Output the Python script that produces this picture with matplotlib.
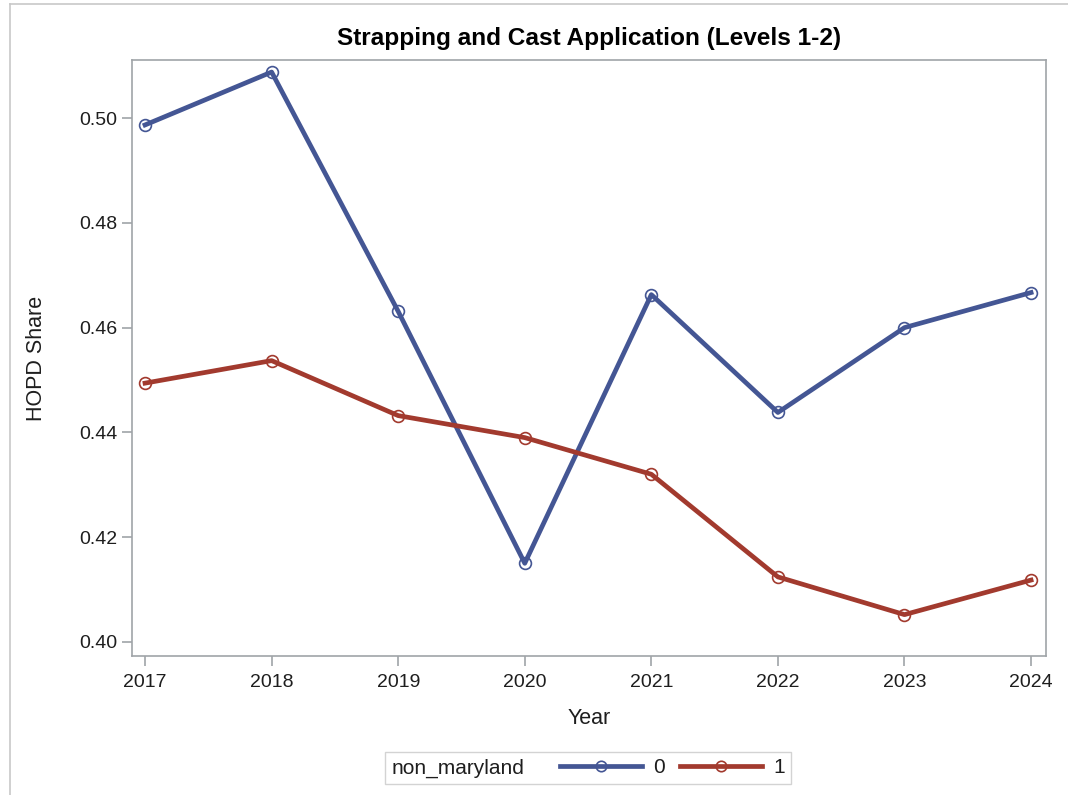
import matplotlib
matplotlib.use("Agg")
import matplotlib.pyplot as plt
from matplotlib.lines import Line2D

# data
years = [2017, 2018, 2019, 2020, 2021, 2022, 2023, 2024]
share_0 = [0.4987, 0.5088, 0.4631, 0.4150, 0.4663, 0.4438, 0.4600, 0.4667]
share_1 = [0.4494, 0.4537, 0.4432, 0.4390, 0.4320, 0.4124, 0.4052, 0.4118]
group_labels = ["0", "1"]
yticks = [0.40, 0.42, 0.44, 0.46, 0.48, 0.50]

blue = "#445694"
red = "#A23A2E"
grey = "#A0A4A8"
txt = "#1E1E1E"

plt.rcParams["font.family"] = ["Liberation Sans", "DejaVu Sans"]

W, H = 1068, 795
fig = plt.figure(figsize=(W / 100, H / 100), dpi=100)
ax = fig.add_axes([132 / W, 1 - 656 / H, 914 / W, 596 / H])

for vals, col in [(share_0, blue), (share_1, red)]:
    ax.plot(years, vals, color=col, linewidth=3.4, marker="o", markersize=8.5,
            markerfacecolor="none", markeredgecolor=col, markeredgewidth=1.2)

ax.set_xlim(2016.897, 2024.118)
ax.set_ylim(0.3973, 0.5111)
ax.set_xticks(years)
ax.set_yticks(yticks)
ax.set_yticklabels([f"{v:.2f}" for v in yticks])
ax.tick_params(colors=grey, labelcolor=txt, labelsize=14, length=7, width=1.2)
ax.tick_params(axis="y", pad=3.5)
ax.tick_params(axis="x", pad=6)

for s in ax.spines.values():
    s.set_color(grey)
    s.set_linewidth(1.2)

ax.set_title("Strapping and Cast Application (Levels 1-2)", fontsize=17.6,
             fontweight="bold", y=1 + 22 / 596, pad=0, va="center", color="black")
ax.set_xlabel("Year", fontsize=15.5, color=txt, va="center")
ax.set_ylabel("HOPD Share", fontsize=15.5, color=txt, va="center")
ax.xaxis.set_label_coords(0.5, -(718 - 656) / 596)
ax.yaxis.set_label_coords(-(132 - 37) / 914, 0.5)

handles = [Line2D([], [], color=c, linewidth=3.4, marker="o", markersize=7.5,
                  markerfacecolor="none", markeredgewidth=1.2)
           for c in (blue, red)]
title_handle = Line2D([], [], linestyle="none")
leg = fig.legend([title_handle] + handles, ["non_maryland"] + group_labels,
                 loc="center", bbox_to_anchor=(588 / W, 1 - 768 / H),
                 ncol=3, fontsize=15, frameon=True, fancybox=False,
                 handlelength=3.94, handletextpad=0.53, columnspacing=0.72,
                 borderpad=0.3, borderaxespad=0, edgecolor="#C8C8C8")
leg.get_frame().set_linewidth(1.0)
for t in leg.get_texts():
    t.set_color(txt)

# the first entry is just the group name: move its empty handle after the text
# and shrink it so the gap matches the reference
first_item = leg._legend_handle_box.get_children()[0].get_children()[0]
da, ta = first_item.get_children()
da.width = 7
first_item._children = [ta, da]

# thin frame on the left and top edges of the image
fig.add_artist(Line2D([9.5 / W, 9.5 / W], [0, 1 - 4 / H], transform=fig.transFigure,
                      color="#C8C8C8", linewidth=1.2))
fig.add_artist(Line2D([9.5 / W, 1], [1 - 4 / H, 1 - 4 / H], transform=fig.transFigure,
                      color="#C8C8C8", linewidth=1.2))

fig.savefig("out.png", dpi=100)
